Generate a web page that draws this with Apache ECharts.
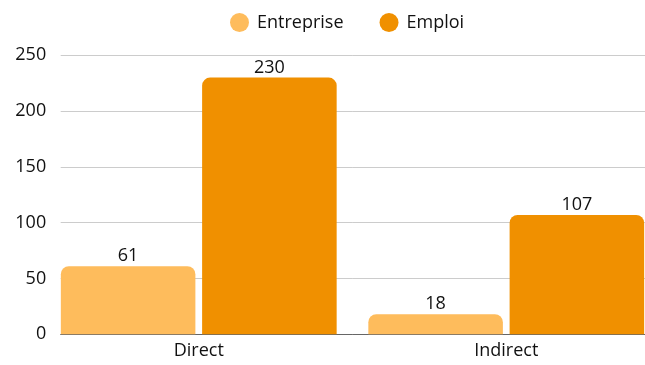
<!DOCTYPE html>
<html>
<head>
<meta charset="utf-8">
<script src="https://cdn.jsdelivr.net/npm/echarts@6/dist/echarts.min.js"></script>
<style>html,body{margin:0;padding:0;background:#fff}#c{width:645px;height:365px}</style>
</head>
<body>
<div id="c"></div>
<script>
const categories = ['Direct', 'Indirect'];
const seriesNames = ['Entreprise', 'Emploi'];
const entreprise = [61, 18];
const emploi = [230, 107];
const yTicks = [0, 50, 100, 150, 200, 250];

const FONT = '"Open Sans", "Noto Sans", sans-serif';
const TXT = '#111111';
const FS = 18;
const chart = echarts.init(document.getElementById('c'), null, {renderer: 'canvas'});
const yMin = yTicks[0], yMax = yTicks[yTicks.length - 1], yStep = yTicks[1] - yTicks[0];

chart.setOption({
  animation: false,
  textStyle: {fontFamily: FONT},
  color: ['#FEBC5C', '#F09000'],
  legend: {
    data: seriesNames,
    left: 230, top: 13, padding: 0,
    icon: 'circle', itemWidth: 19, itemHeight: 19, itemGap: 36,
    textStyle: {fontFamily: FONT, fontSize: FS, color: TXT, padding: [0, 0, 0, 3]}
  },
  grid: [
    {left: 60.7, right: 0, top: 55.3, bottom: 30.7, containLabel: false, outerBoundsMode: 'none'},
    {left: 45, right: -15, top: 55.3, bottom: 30.7, containLabel: false, outerBoundsMode: 'none'}
  ],
  xAxis: [
    {type: 'category', gridIndex: 0, data: categories,
      axisLine: {show: true, lineStyle: {color: '#666'}},
      axisTick: {show: false}, axisLabel: {show: false}},
    {type: 'category', gridIndex: 1, data: categories,
      axisLine: {show: false}, axisTick: {show: false},
      axisLabel: {fontFamily: FONT, fontSize: FS, color: TXT, margin: 8}}
  ],
  yAxis: [
    {type: 'value', gridIndex: 0, min: yMin, max: yMax, interval: yStep,
      axisLine: {show: false},
      axisTick: {show: false},
      splitLine: {lineStyle: {color: '#cccccc'}},
      axisLabel: {fontFamily: FONT, fontSize: FS, color: TXT, margin: 14.5}},
    {type: 'value', gridIndex: 1, min: yMin, max: yMax, interval: yStep, show: false,
      splitLine: {show: false}}
  ],
  series: [
    {name: seriesNames[0], type: 'bar', xAxisIndex: 1, yAxisIndex: 1, data: entreprise,
      barGap: '5%', barCategoryGap: '10.3%',
      itemStyle: {borderRadius: [8, 8, 0, 0]},
      label: {show: true, position: 'top', distance: 1, fontFamily: FONT, fontSize: FS, color: TXT}},
    {name: seriesNames[1], type: 'bar', xAxisIndex: 1, yAxisIndex: 1, data: emploi,
      barGap: '5%', barCategoryGap: '10.3%',
      itemStyle: {borderRadius: [8, 8, 0, 0]},
      label: {show: true, position: 'top', distance: 1, fontFamily: FONT, fontSize: FS, color: TXT}}
  ]
});
</script>
</body>
</html>
